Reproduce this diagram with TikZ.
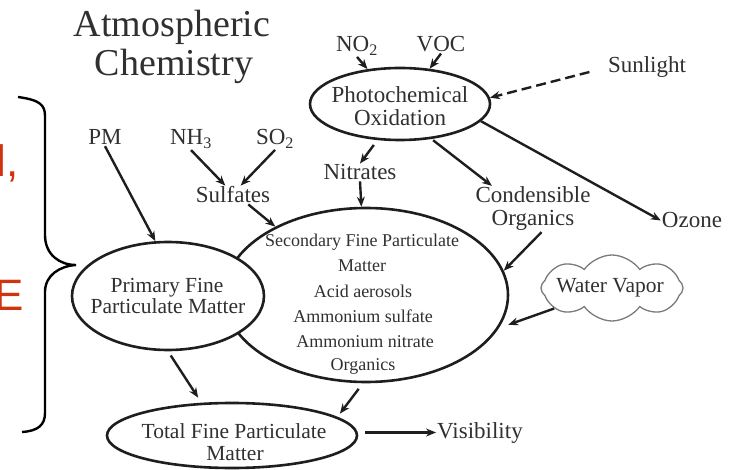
\documentclass[tikz,border=0pt]{standalone}
\usepackage{fontspec}
\setmainfont{Liberation Serif}
\newfontfamily\redsans{Liberation Sans}
\usetikzlibrary{shapes.geometric,shapes.symbols,arrows.meta,calc}
\definecolor{ink}{HTML}{1E1E1E}
\definecolor{txtgray}{HTML}{303030}
\definecolor{redtxt}{RGB}{208,52,14}
\definecolor{cloudgray}{HTML}{7A7A7A}
\begin{document}
\begin{tikzpicture}[x=1pt,y=-1pt,
  ell/.style={ellipse, draw=ink, line width=2.6pt, inner sep=0pt},
  lbl/.style={text=txtgray, font=\fontsize{23}{25}\selectfont, inner sep=1pt, anchor=base},
  plbl/.style={text=txtgray, font=\fontsize{21.5}{24}\selectfont, inner sep=1pt, anchor=base},
  sml/.style={text=txtgray, font=\fontsize{18}{20}\selectfont, inner sep=1pt, anchor=base},
  ttl/.style={text=txtgray, font=\fontsize{38}{40}\selectfont, inner sep=1pt, anchor=base},
  redlbl/.style={text=redtxt, font=\redsans\fontsize{44}{46}\selectfont, inner sep=0pt, anchor=base west},
  arr/.style={draw=ink, line width=2.4pt, -{Stealth[length=10pt,width=8pt]}},
  bracestyle/.style={draw=black, line width=2.4pt},
]
\useasboundingbox (0,0) rectangle (733,470);
\clip (0,0) rectangle (733,470);

% red partial text at left edge
\node[redlbl] (redl) at (-3.8,177) {l,};
\node[redlbl] (rede) at (-5.8,310) {E};

% brace
\draw[bracestyle] (18,97) .. controls (40,100) and (45,105) .. (45,116) -- (45,235)
  .. controls (45,255) and (60,265) .. (76,265)
  .. controls (60,266) and (45,275) .. (45,292) -- (45,413)
  .. controls (45,425) and (38,431) .. (22,432);

% title
\node[ttl] (title1) at (172,37) {Atmospheric};
\node[ttl] (title2) at (174,76) {Chemistry};

% ellipses
\node[ell, minimum width=180pt, minimum height=72pt] (photo) at (400,104) {};
\node[ell, minimum width=284pt, minimum height=174pt] (sec) at (366,295) {};
\node[ell, fill=white, minimum width=192pt, minimum height=108pt] (prim) at (168,296) {};
\node[ell, minimum width=250pt, minimum height=65pt] (total) at (232,435.5) {};
\node[cloud, draw=cloudgray, line width=1.3pt, cloud puffs=8, cloud puff arc=110,
      aspect=2.3, minimum width=142pt, minimum height=66pt, inner sep=0pt] (wv) at (612,288) {};

% labels
\node[lbl] (no2) at (357,52) {NO\textsubscript{2}};
\node[lbl] (voc) at (441,52) {VOC};
\node[lbl] (sun) at (647,73) {Sunlight};
\node[lbl] (photoA) at (400,103) {Photochemical};
\node[lbl] (photoB) at (400,126) {Oxidation};
\node[lbl] (ozone) at (692,228) {Ozone};
\node[lbl] (nitr) at (360,180) {Nitrates};
\node[lbl] (cond) at (533,203) {Condensible};
\node[lbl] (org) at (533,226) {Organics};
\node[lbl] (pm) at (105,145) {PM};
\node[lbl] (nh3) at (191,145) {NH\textsubscript{3}};
\node[lbl] (so2) at (275,145) {SO\textsubscript{2}};
\node[lbl] (sulf) at (233,203) {Sulfates};
\node[plbl] (primA) at (167,292) {Primary Fine};
\node[plbl] (primB) at (168,313) {Particulate Matter};
\node[sml] (secA) at (362,247) {Secondary Fine Particulate};
\node[sml] (secB) at (362,272) {Matter};
\node[sml] (secC) at (363,297) {Acid aerosols};
\node[sml] (secD) at (363,322) {Ammonium sulfate};
\node[sml] (secE) at (365,347) {Ammonium nitrate};
\node[sml] (secF) at (363,370) {Organics};
\node[plbl] (totA) at (234,438) {Total Fine Particulate};
\node[plbl] (totB) at (235,460) {Matter};
\node[lbl] (vis) at (480,438) {Visibility};
\node[plbl] (wvt) at (610,292) {Water Vapor};

% connectors
\draw[arr] (no2.south) -- (photo.133);
\draw[arr] (voc.south) -- (photo.50);
\draw[arr, dash pattern=on 10pt off 5pt, shorten <=18pt] (sun.west) -- (photo.4);
\draw[arr] (photo.-12) -- (ozone.west);
\draw[arr, shorten <=6pt] (photo.-122) -- (nitr.north);
\draw[arr, shorten <=2pt] (photo.-48) -- ($(cond.north west)!0.15!(cond.north east)$);
\draw[arr] ($(org.south west)!0.6!(org.south east)$) -- (sec.10);
\draw[arr] (pm.south) -- (prim.103);
\draw[arr] (nh3.south) -- ($(sulf.north west)!0.4!(sulf.north east)$);
\draw[arr] (so2.south) -- ($(sulf.north west)!0.6!(sulf.north east)$);
\draw[arr] ($(sulf.south west)!0.7!(sulf.south east)$) -- (sec.143);
\draw[arr] (nitr.south) -- (sec.93);
\draw[arr, shorten >=10pt] (wv) -- (sec.-14);
\draw[arr, shorten <=5pt, shorten >=6pt] (prim.-90) -- (total.133);
\draw[arr, shorten <=7pt, shorten >=4pt] (sec.-92) -- (total.10);
\draw[arr, shorten <=7pt] (vis.west -| total.east) -- (vis.west);
\end{tikzpicture}
\end{document}
